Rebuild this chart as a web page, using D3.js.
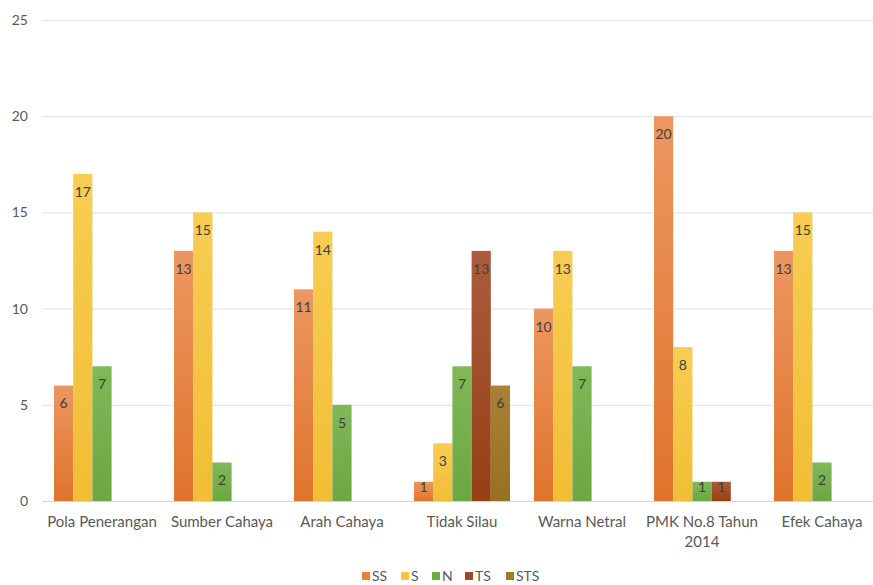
<!DOCTYPE html>
<html>
<head>
<meta charset="utf-8">
<script src="https://cdn.jsdelivr.net/npm/d3@7"></script>
<style>
  body { margin: 0; background: #fff; }
  svg { font-family: Lato, "Open Sans", sans-serif; }
</style>
</head>
<body>
<div id="chart"></div>
<script>
// categories and series
const categories = ['Pola Penerangan', 'Sumber Cahaya', 'Arah Cahaya', 'Tidak Silau', 'Warna Netral', 'PMK No.8 Tahun 2014', 'Efek Cahaya']
const seriesNames = ['SS', 'S', 'N', 'TS', 'STS']
const SS  = [6, 13, 11, 1, 10, 20, 13]
const S   = [17, 15, 14, 3, 13, 8, 15]
const N   = [7, 2, 5, 7, 7, 1, 2]
const TS  = [null, null, null, 13, null, 1, null]
const STS = [null, null, null, 6, null, null, null]
const yTicks = [0, 5, 10, 15, 20, 25]

const seriesValues = [SS, S, N, TS, STS]
const colors = {
    SS:  ['#ec9761', '#e0742c'],
    S:   ['#f8cd52', '#f1bd35'],
    N:   ['#80b858', '#6ca742'],
    TS:  ['#ab5c3c', '#963f15'],
    STS: ['#a88136', '#98711f']
}
const legendColors = { SS: '#e8803c', S: '#f5c440', N: '#70ad47', TS: '#9e4a22', STS: '#9f7a28' }

const width = 873, height = 585
const svg = d3.select('#chart')
    .append('svg')
        .attr('width', width)
        .attr('height', height)

// gradients
const defs = svg.append('defs')
seriesNames.forEach((name) => {
    const g = defs.append('linearGradient')
        .attr('id', 'grad-' + name)
        .attr('x1', 0).attr('y1', 0).attr('x2', 0).attr('y2', 1)
    g.append('stop').attr('offset', '0%').attr('stop-color', colors[name][0])
    g.append('stop').attr('offset', '100%').attr('stop-color', colors[name][1])
})

// Set the ranges
const xScale = d3.scaleBand()
    .domain(categories)
    .range([42, 882])
    .paddingInner(0.2)
    .paddingOuter(0.1)

const xInner = d3.scaleBand()
    .domain(seriesNames)
    .range([0, xScale.bandwidth()])

const yScale = d3.scaleLinear()
    .domain([0, 25])
    .range([501, 20])

// gridlines
svg.append('g')
    .attr('class', 'grid')
    .selectAll('line')
    .data(yTicks)
    .join('line')
        .attr('x1', 42)
        .attr('x2', width)
        .attr('y1', (d) => yScale(d) + 0.5)
        .attr('y2', (d) => yScale(d) + 0.5)
        .style('stroke', (d) => d === 0 ? '#d4d4d4' : '#e0e0e0')
        .style('stroke-width', 1)

// Y axis labels
svg.append('g')
    .attr('class', 'y axis')
    .selectAll('text')
    .data(yTicks)
    .join('text')
        .attr('x', 28)
        .attr('y', (d) => yScale(d))
        .attr('dy', '0.35em')
        .attr('text-anchor', 'end')
        .style('font-size', '14px')
        .style('fill', '#595959')
        .text((d) => d)

// bars
const groups = svg.append('g')
    .attr('class', 'bars')
    .selectAll('g')
    .data(categories)
    .join('g')
        .attr('transform', (d) => 'translate(' + xScale(d) + ',0)')

groups.each(function (cat, ci) {
    const g = d3.select(this)
    seriesNames.forEach((name, si) => {
        const v = seriesValues[si][ci]
        if (v == null) return
        g.append('rect')
            .attr('x', xInner(name))
            .attr('y', yScale(v))
            .attr('width', xInner.bandwidth())
            .attr('height', yScale(0) - yScale(v))
            .style('fill', 'url(#grad-' + name + ')')
        // label inside end, kept inside the bar for short bars
        g.append('text')
            .attr('x', xInner(name) + xInner.bandwidth() / 2)
            .attr('y', Math.min(yScale(v) + 18, yScale(0) - 14))
            .attr('dy', '0.35em')
            .attr('text-anchor', 'middle')
            .style('font-size', '14px')
            .style('fill', '#404040')
            .text(v)
    })
})

// X axis labels
const xLabels = svg.append('g')
    .attr('class', 'x axis')
    .selectAll('text')
    .data(categories)
    .join('text')
        .attr('x', (d) => xScale(d) + xScale.bandwidth() / 2)
        .attr('y', 527)
        .attr('text-anchor', 'middle')
        .style('font-size', '15px')
        .style('fill', '#595959')

xLabels.each(function (d) {
    const t = d3.select(this)
    const lines = d === 'PMK No.8 Tahun 2014' ? ['PMK No.8 Tahun', '2014'] : [d]
    lines.forEach((line, i) => {
        t.append('tspan')
            .attr('x', xScale(d) + xScale.bandwidth() / 2)
            .attr('dy', i === 0 ? 0 : '1.35em')
            .text(line)
    })
})

// legend
const legend = svg.append('g')
    .attr('class', 'legend')
const legendX = [362, 401, 432, 465, 506]
seriesNames.forEach((name, i) => {
    const item = legend.append('g')
        .attr('transform', 'translate(' + legendX[i] + ',576)')
    item.append('rect')
        .attr('x', 0)
        .attr('y', -4)
        .attr('width', 8)
        .attr('height', 8)
        .style('fill', legendColors[name])
    item.append('text')
        .attr('x', 10)
        .attr('dy', '0.35em')
        .style('font-size', '14px')
        .style('fill', '#595959')
        .text(name)
})
</script>
</body>
</html>
